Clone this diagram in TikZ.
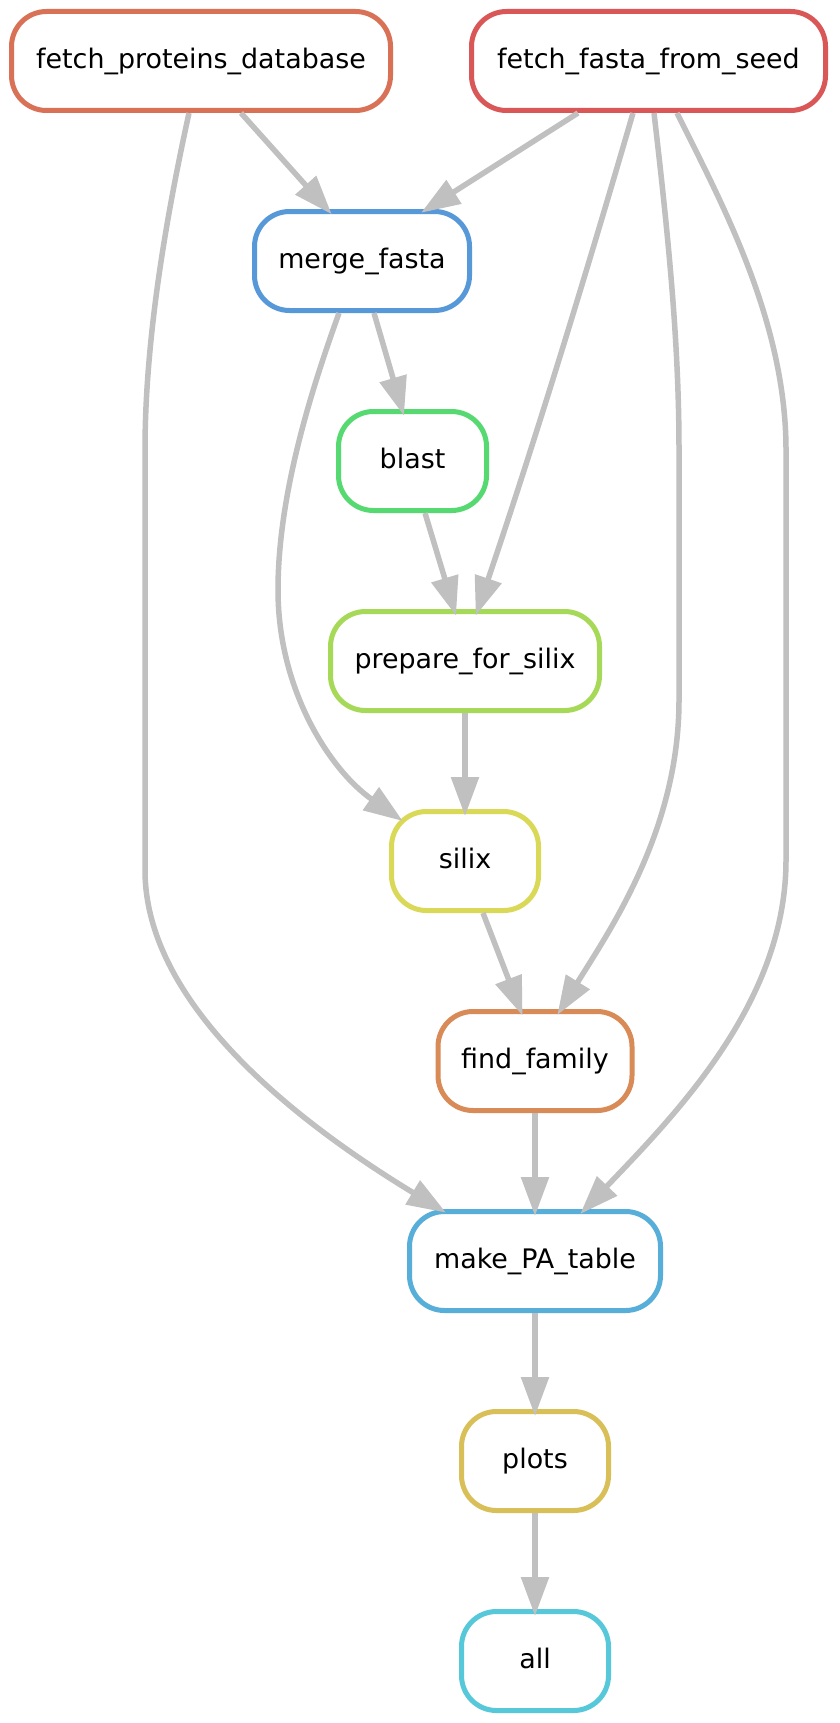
\documentclass[tikz,border=0pt]{standalone}
\usepackage{fontspec}
\newfontfamily\nodefont{DejaVu Sans}
\usetikzlibrary{arrows.meta}
\definecolor{edgegray}{RGB}{192,192,192}
\definecolor{cffs}{RGB}{217,87,87}
\definecolor{cfpd}{RGB}{217,113,87}
\definecolor{cfind}{RGB}{217,139,87}
\definecolor{cplots}{RGB}{217,191,87}
\definecolor{csilix}{RGB}{217,217,87}
\definecolor{cprep}{RGB}{165,217,87}
\definecolor{cblast}{RGB}{87,217,113}
\definecolor{call}{RGB}{87,200,217}
\definecolor{cmake}{RGB}{87,174,217}
\definecolor{cmerge}{RGB}{87,152,217}
\tikzset{
  rulebox/.style={draw=#1, line width=5pt, rounded corners=35pt, fill=white,
    font={\nodefont\fontsize{26.9}{32}\selectfont}, text height=20.5pt, text depth=5.6pt,
    inner sep=0pt, minimum height=99pt, anchor=center},
  dep/.style={draw=edgegray, line width=5.5pt, -{Triangle[length=39pt,width=27pt]}, shorten >=-7pt}
}
\begin{document}
\begin{tikzpicture}[x=1pt,y=-1pt]
\useasboundingbox (0,0) rectangle (839,1723);
\fill[white] (0,0) rectangle (839,1723);
\node[rulebox=cfpd, minimum width=379pt] (fpd) at (201,61) {fetch\_proteins\_database};
\node[rulebox=cffs, minimum width=354pt] (ffs) at (648.5,61) {fetch\_fasta\_from\_seed};
\node[rulebox=cmerge, minimum width=215pt] (merge) at (362,261) {merge\_fasta};
\node[rulebox=cblast, minimum width=148pt] (blast) at (412.5,461) {blast};
\node[rulebox=cprep, minimum width=269pt] (prep) at (465,661) {prepare\_for\_silix};
\node[rulebox=csilix, minimum width=147pt] (silix) at (465,861) {silix};
\node[rulebox=cfind, minimum width=194pt] (find) at (535,1061) {find\_family};
\node[rulebox=cmake, minimum width=251pt] (make) at (535,1261) {make\_PA\_table};
\node[rulebox=cplots, minimum width=147pt] (plots) at (535,1461) {plots};
\node[rulebox=call, minimum width=147pt] (all) at (535,1661) {all};

\draw[dep] ([xshift=40pt]fpd.south) -- ([xshift=-35pt]merge.north);
\draw[dep] ([xshift=-70.5pt]ffs.south) -- ([xshift=65pt]merge.north);
\draw[dep] ([xshift=12pt]merge.south) -- ([xshift=-10.5pt]blast.north);
\draw[dep] ([xshift=12.5pt]blast.south) -- ([xshift=-11pt]prep.north);
\draw[dep] ([xshift=-15.5pt]ffs.south) .. controls (585,278) and (534,444) .. ([xshift=13pt]prep.north);
\draw[dep] ([xshift=5.5pt]ffs.south) .. controls (670,250) and (679,350) .. (679,450) -- (679,700) .. controls (679,830) and (610,930) .. ([xshift=26pt]find.north);
\draw[dep] ([xshift=28.5pt]ffs.south) .. controls (720,200) and (786,320) .. (786,450) -- (786,860) .. controls (786,1000) and (680,1110) .. ([xshift=50pt]make.north);
\draw[dep] ([xshift=-12pt]fpd.south) .. controls (170,200) and (145,330) .. (145,450) -- (145,870) .. controls (145,1010) and (310,1130) .. ([xshift=-95pt]make.north);
\draw[dep] ([xshift=-23pt]merge.south) .. controls (315,380) and (278,490) .. (278,590) .. controls (278,690) and (330,770) .. ([shift={(-68pt,44pt)}]silix.center);
\draw[dep] (prep.south) -- (silix.north);
\draw[dep] ([xshift=18pt]silix.south) -- ([xshift=-15pt]find.north);
\draw[dep] (find.south) -- (make.north);
\draw[dep] (make.south) -- (plots.north);
\draw[dep] (plots.south) -- (all.north);
\end{tikzpicture}
\end{document}
